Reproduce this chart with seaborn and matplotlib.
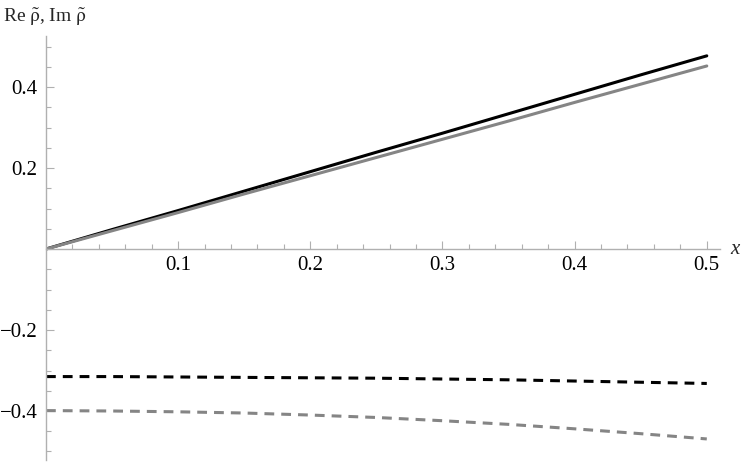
import matplotlib
matplotlib.use("Agg")
import matplotlib.pyplot as plt
import matplotlib.ticker as mticker
import seaborn as sns

# values
x_vals = [0.0, 0.05, 0.10, 0.15, 0.20, 0.25, 0.30, 0.35, 0.40, 0.45, 0.50]
re_exact = [0.0, 0.048, 0.095, 0.143, 0.191, 0.239, 0.286, 0.334, 0.382, 0.430, 0.477]
re_approx = [0.0, 0.045, 0.090, 0.136, 0.181, 0.226, 0.271, 0.316, 0.362, 0.407, 0.452]
im_exact = [-0.315, -0.315, -0.316, -0.317, -0.318, -0.319, -0.321, -0.323, -0.326, -0.329, -0.332]
im_approx = [-0.399, -0.400, -0.402, -0.405, -0.410, -0.416, -0.424, -0.433, -0.444, -0.456, -0.469]

x_ticks = [0.1, 0.2, 0.3, 0.4, 0.5]
y_ticks = [-0.4, -0.2, 0.2, 0.4]

sns.set_style("white")
plt.rcParams["font.family"] = ["Liberation Serif", "DejaVu Serif"]
plt.rcParams["mathtext.fontset"] = "stix"
plt.rcParams["axes.unicode_minus"] = True

fig = plt.figure(figsize=(7.47, 4.63), dpi=100)
ax = fig.add_axes([46 / 747, 3 / 463, 674 / 747, 424 / 463])

gray = "#858585"
lw = 2.2
sns.lineplot(x=x_vals, y=re_exact, ax=ax, color="black", lw=lw)
sns.lineplot(x=x_vals, y=re_approx, ax=ax, color=gray, lw=lw)
sns.lineplot(x=x_vals, y=im_exact, ax=ax, color="black", lw=lw)
sns.lineplot(x=x_vals, y=im_approx, ax=ax, color=gray, lw=lw)
for ln in ax.lines[2:]:
    ln.set_dashes((3.2, 2.3))

ax.set_xlim(0, 0.51)
ax.set_ylim(-0.521, 0.526)

for side in ["top", "right"]:
    ax.spines[side].set_visible(False)
ax.spines["left"].set_position(("data", 0))
ax.spines["bottom"].set_position(("data", 0))
for side in ["left", "bottom"]:
    ax.spines[side].set_color("#b0b0b0")
    ax.spines[side].set_linewidth(1.0)

ax.set_xticks(x_ticks)
ax.set_xticklabels([f"{v:.1f}" for v in x_ticks])
ax.set_yticks(y_ticks)
ax.set_yticklabels([f"{v:.1f}".replace("-", "\u2212") for v in y_ticks])
ax.xaxis.set_minor_locator(mticker.MultipleLocator(0.02))
ax.yaxis.set_minor_locator(mticker.MultipleLocator(0.05))

ax.tick_params(which="both", direction="in", color="#b0b0b0", width=0.8,
               labelsize=15, labelcolor="black", left=True, bottom=True)
ax.tick_params(which="major", length=6)
ax.tick_params(which="minor", length=3.5)
ax.tick_params(axis="x", pad=5)
ax.tick_params(axis="y", pad=6)

ax.text((735 - 46) / 674, 0, "x", transform=ax.get_yaxis_transform(),
        fontsize=15, style="italic", va="center", ha="center")
fig.text(3 / 747, 1 - 17 / 463,
         r"Re $\tilde{\mathrm{\rho}}$, Im $\tilde{\mathrm{\rho}}$",
         fontsize=14, va="center", ha="left")

fig.savefig("out.png", dpi=100)
